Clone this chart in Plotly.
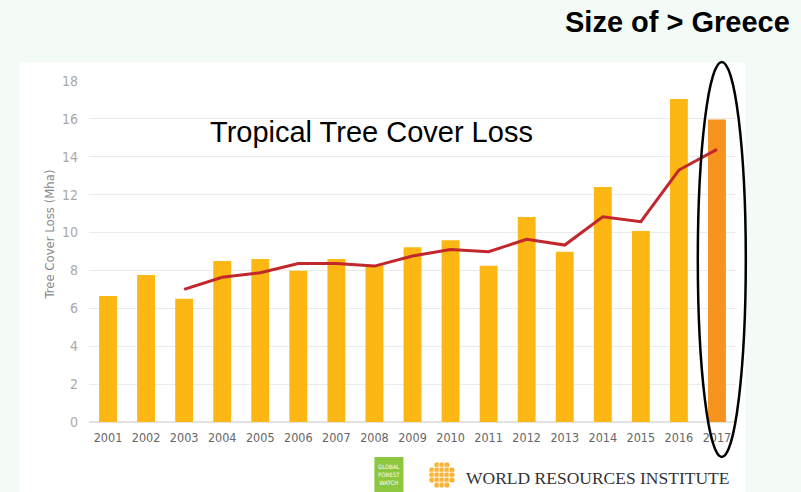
import plotly.graph_objects as go

years = [str(y) for y in range(2001, 2018)]
loss = [6.65, 7.76, 6.51, 8.50, 8.60, 7.98, 8.60, 8.28, 9.23, 9.60, 8.25, 10.82, 8.99, 12.40, 10.08, 17.05, 15.97]
avg_years = [str(y) for y in range(2003, 2018)]
avg_loss = [7.00, 7.64, 7.88, 8.37, 8.37, 8.23, 8.76, 9.11, 8.99, 9.64, 9.34, 10.83, 10.57, 13.30, 14.39]
y_ticks = list(range(0, 19, 2))

bar_colors = ["#FDB714"] * (len(years) - 1) + ["#F7941D"]

W, H = 801, 492
L, R, T, B = 88.5, 65.3, 81, 70
pw, ph = W - L - R, H - T - B

COND = "DejaVu Sans Condensed, Roboto Condensed, Roboto, sans-serif"

def px(x):
    return (x - L) / pw

def py(y):
    return (H - B - y) / ph

fig = go.Figure()
fig.add_trace(go.Bar(x=years, y=loss, marker=dict(color=bar_colors, line=dict(width=0)), hoverinfo="x+y"))
fig.add_trace(go.Scatter(x=avg_years, y=avg_loss, mode="lines", line=dict(color="#C1272D", width=3)))

shapes = [
    dict(type="rect", xref="paper", yref="paper", x0=px(19), x1=px(745), y0=py(62), y1=py(492),
         fillcolor="white", line=dict(width=0), layer="below"),
    dict(type="circle", xref="paper", yref="paper", x0=px(697.5), x1=px(745.5), y0=py(62), y1=py(457),
         line=dict(color="black", width=2.5), layer="above"),
    dict(type="rect", xref="paper", yref="paper", x0=px(374), x1=px(403), y0=py(457), y1=py(492),
         fillcolor="#8DC63F", line=dict(width=0), layer="above"),
]
# WRI rosette
cx, cy, s, r = 441.5, 475, 5.0, 3.1
pts = []
for i in range(-2, 3):
    for j in range(-2, 3):
        if abs(i) + abs(j) <= 3:
            pts.append((cx + i * s, cy + j * s))
for (x, y) in pts:
    shapes.append(dict(type="circle", xref="paper", yref="paper", x0=px(x - r), x1=px(x + r),
                       y0=py(y - r), y1=py(y + r), fillcolor="#F9B233", line=dict(color="white", width=0.8),
                       layer="above"))

annotations = [
    dict(text="Tropical Tree Cover Loss", xref="paper", yref="paper", x=px(371), y=py(132),
         showarrow=False, font=dict(family="Liberation Sans, Arial", size=29, color="black"),
         xanchor="center", yanchor="middle"),
    dict(text="<b>Size of > Greece</b>", xref="paper", yref="paper", x=px(677.5), y=py(22),
         showarrow=False, font=dict(family="Liberation Sans, Arial", size=29, color="black"),
         xanchor="center", yanchor="middle"),
    dict(text="Tree Cover Loss (Mha)", xref="paper", yref="paper", x=px(48), y=py(235),
         showarrow=False, textangle=-90, font=dict(family=COND, size=13, color="#888888"),
         xanchor="center", yanchor="middle"),
    dict(text="GLOBAL<br>FOREST<br>WATCH", xref="paper", yref="paper", x=px(388.5), y=py(474.5),
         showarrow=False, font=dict(family=COND, size=6, color="white"),
         xanchor="center", yanchor="middle"),
    dict(text="WORLD RESOURCES INSTITUTE", xref="paper", yref="paper", x=px(597.5), y=py(477.5),
         showarrow=False, font=dict(family="Liberation Serif, DejaVu Serif", size=17.5, color="#333333"),
         xanchor="center", yanchor="middle"),
]

fig.update_layout(
    width=W, height=H,
    margin=dict(l=L, r=R, t=T, b=B, pad=0),
    paper_bgcolor="#F4FBF7",
    plot_bgcolor="rgba(0,0,0,0)",
    showlegend=False,
    bargap=0.53,
    shapes=shapes,
    annotations=annotations,
    xaxis=dict(type="category", range=[-0.5, 16.5], showgrid=False, zeroline=False, showline=False,
               ticks="", tickfont=dict(family=COND, size=12.5, color="#666666"),
               ticklabelstandoff=6),
    yaxis=dict(range=[0, 18], tickvals=y_ticks, showgrid=True, gridcolor="#EBEBEB", gridwidth=1,
               zeroline=True, zerolinecolor="#E3E3E3", zerolinewidth=1.5, showline=False, ticks="",
               tickfont=dict(family=COND, size=14, color="#AAAAAA"),
               ticklabelstandoff=10),
)

fig.write_html("out.html")
